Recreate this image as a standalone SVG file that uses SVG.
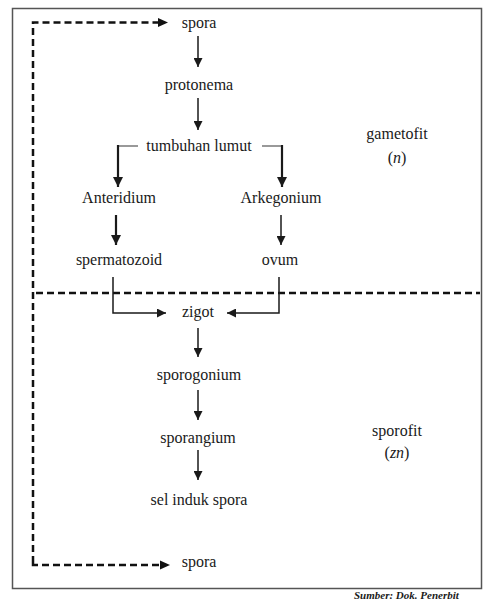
<svg xmlns="http://www.w3.org/2000/svg" width="500" height="600" viewBox="0 0 500 600">
<defs>
<marker id="ah" viewBox="0 0 10 10" refX="10" refY="5" markerWidth="9" markerHeight="9" markerUnits="userSpaceOnUse" orient="auto"><path d="M0,0 L10,5 L0,10 Z" fill="#1a1a1a"/></marker>
<marker id="ahb" viewBox="0 0 10 10" refX="10" refY="5" markerWidth="10" markerHeight="10" markerUnits="userSpaceOnUse" orient="auto"><path d="M0,0 L10,5 L0,10 Z" fill="#1a1a1a"/></marker>
</defs>
<style>
text{font-family:'Liberation Serif','DejaVu Serif',serif;font-size:16px;fill:#1a1a1a;text-anchor:middle}
.src{font-size:11px;font-weight:bold;font-style:italic;text-anchor:start}
.c{fill:none;stroke:#1a1a1a;stroke-width:1.5}
.thick{stroke-width:2.2}
.gray{stroke:#777;stroke-width:1.5}
.dash{fill:none;stroke:#111;stroke-width:2.5;stroke-dasharray:7 4}
</style>
<rect x="12.5" y="8.5" width="469" height="580" fill="#fff" stroke="#555" stroke-width="1.5"/>
<g id="connectors">
<path class="dash" d="M33,563 V22.5 H158"/>
<path d="M158,18 L168,22.5 L158,27 Z" fill="#111"/>
<path class="dash" d="M33,563 V565 H160"/>
<path d="M160,560.5 L170,565 L160,569.5 Z" fill="#111"/>
<path class="dash" d="M36,293 H480"/>
<line class="c" x1="198" y1="36" x2="198" y2="67" marker-end="url(#ah)"/>
<line class="c" x1="198" y1="98" x2="198" y2="130" marker-end="url(#ah)"/>
<path class="gray" d="M138,146 H118" fill="none"/>
<line class="c thick" x1="118" y1="145" x2="118" y2="187" marker-end="url(#ahb)"/>
<path class="gray" d="M262,146 H282" fill="none"/>
<line class="c thick" x1="282" y1="145" x2="282" y2="187" marker-end="url(#ahb)"/>
<line class="c thick" x1="116" y1="215" x2="116" y2="245" marker-end="url(#ahb)"/>
<line class="c" x1="281" y1="215" x2="281" y2="245" marker-end="url(#ah)"/>
<path class="c" d="M113,277 V313 H166" stroke="#333" marker-end="url(#ah)"/>
<path class="c" d="M279,277 V313 H227" stroke="#333" marker-end="url(#ah)"/>
<line class="c" x1="198" y1="328" x2="198" y2="357" marker-end="url(#ah)"/>
<line class="c" x1="198" y1="390" x2="198" y2="420" marker-end="url(#ah)"/>
<line class="c" x1="198" y1="450" x2="198" y2="480" marker-end="url(#ah)"/>
</g>
<g id="spora-top"><text x="199" y="28">spora</text></g>
<g id="protonema"><text x="199" y="90">protonema</text></g>
<g id="tumbuhan-lumut"><text x="199" y="151">tumbuhan lumut</text></g>
<g id="anteridium"><text x="119" y="203">Anteridium</text></g>
<g id="arkegonium"><text x="281" y="203">Arkegonium</text></g>
<g id="spermatozoid"><text x="119" y="265">spermatozoid</text></g>
<g id="ovum"><text x="280" y="265">ovum</text></g>
<g id="zigot"><text x="198" y="317">zigot</text></g>
<g id="sporogonium"><text x="199" y="380">sporogonium</text></g>
<g id="sporangium"><text x="198" y="443">sporangium</text></g>
<g id="sel-induk-spora"><text x="199" y="505">sel induk spora</text></g>
<g id="spora-bottom"><text x="199" y="567">spora</text></g>
<g id="gametofit"><text x="397" y="139">gametofit</text><text x="397" y="163">(<tspan font-style="italic">n</tspan>)</text></g>
<g id="sporofit"><text x="397" y="436">sporofit</text><text x="397" y="458">(<tspan font-style="italic">zn</tspan>)</text></g>
<text class="src" x="354" y="599">Sumber: Dok. Penerbit</text>
</svg>
